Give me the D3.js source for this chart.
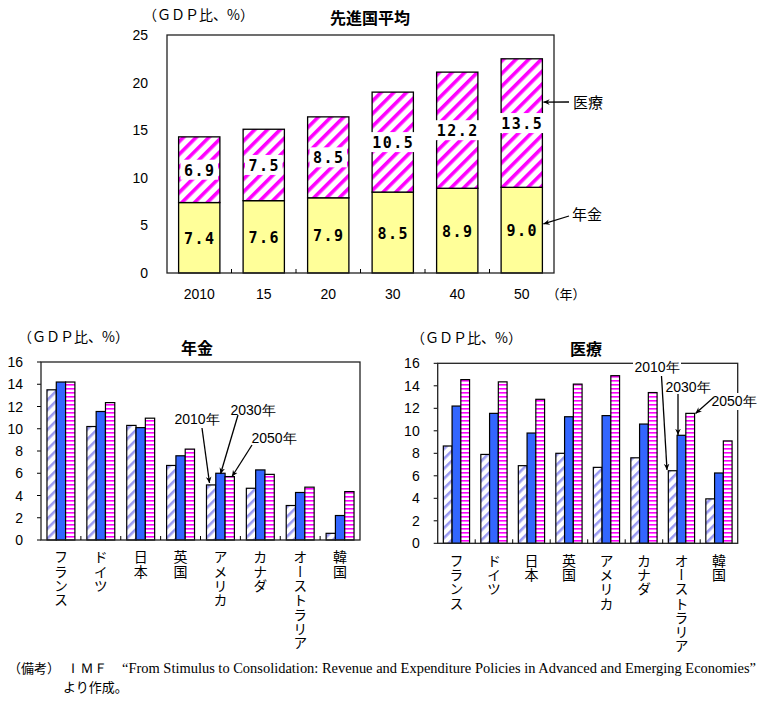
<!DOCTYPE html>
<html><head><meta charset="utf-8">
<script src="https://cdn.jsdelivr.net/npm/d3@7"></script>
<style>
body{margin:0;background:#fff;}
svg{display:block;}
</style></head>
<body><svg id="c" width="764" height="707"></svg>
<script>
// ---------- data ----------
const years = ["2010","15","20","30","40","50"];
const pensionAvg = [7.4,7.6,7.9,8.5,8.9,9.0];
const healthAvg = [6.9,7.5,8.5,10.5,12.2,13.5];
const topTicks = [0,5,10,15,20,25];

const countries = ["フランス","ドイツ","日本","英国","アメリカ","カナダ","オーストラリア","韓国"];
const pension2010 = [13.5,10.2,10.3,6.7,4.95,4.65,3.1,0.6];
const pension2030 = [14.2,11.55,10.1,7.57,6.0,6.3,4.27,2.2];
const pension2050 = [14.2,12.35,10.95,8.17,5.7,5.9,4.75,4.35];
const health2010 = [8.65,7.9,6.9,8.0,6.75,7.6,6.45,3.95];
const health2030 = [12.2,11.55,9.8,11.25,11.35,10.6,9.6,6.25];
const health2050 = [14.55,14.35,12.8,14.15,14.9,13.4,11.55,9.1];
const smallTicks = [0,2,4,6,8,10,12,14,16];
const seriesYears = ["2010年","2030年","2050年"];

const JP = "'Noto Sans CJK JP', sans-serif";
const NUM = "'Liberation Sans', Arial, sans-serif";
const NARROW = "'Liberation Sans Narrow', 'Liberation Sans', sans-serif";

const svg = d3.select("#c");
const defs = svg.append("defs");

// patterns
const pDiagM = defs.append("pattern").attr("id","diagM").attr("patternUnits","userSpaceOnUse")
  .attr("width",9).attr("height",9).attr("patternTransform","rotate(45)");
pDiagM.append("rect").attr("width",9).attr("height",9).attr("fill","#fff");
pDiagM.append("rect").attr("x",0).attr("width",3.6).attr("height",9).attr("fill","#ff00ff");

const pDiagB = defs.append("pattern").attr("id","diagB").attr("patternUnits","userSpaceOnUse")
  .attr("width",7).attr("height",7).attr("patternTransform","rotate(45)");
pDiagB.append("rect").attr("width",7).attr("height",7).attr("fill","#fff");
pDiagB.append("rect").attr("x",0).attr("width",2.6).attr("height",7).attr("fill","#9a9af2");

const pHorM = defs.append("pattern").attr("id","horM").attr("patternUnits","userSpaceOnUse")
  .attr("width",4).attr("height",4);
pHorM.append("rect").attr("width",4).attr("height",4).attr("fill","#fff");
pHorM.append("rect").attr("y",0).attr("width",4).attr("height",1.6).attr("fill","#ff00ff");

const mk = defs.append("marker").attr("id","arr").attr("viewBox","0 0 10 10")
  .attr("refX",9).attr("refY",5).attr("markerWidth",7).attr("markerHeight",7)
  .attr("orient","auto").attr("markerUnits","userSpaceOnUse");
mk.append("path").attr("d","M0,1 L9,5 L0,9 L3,5 Z").attr("fill","#000");

function arrow(g,x1,y1,x2,y2){
  g.append("line").attr("x1",x1).attr("y1",y1).attr("x2",x2).attr("y2",y2)
   .attr("stroke","#000").attr("stroke-width",1.3).attr("marker-end","url(#arr)");
}

// ---------- top chart ----------
{
  const L=167,R=554,T=35,B=273;
  const x = d3.scaleBand().domain(years).range([L,R]).paddingInner(0.36).paddingOuter(0.18);
  const y = d3.scaleLinear().domain([0,25]).range([B,T]);
  const g = svg.append("g");

  g.append("text").attr("x",143).attr("y",20).attr("font-family",JP).attr("font-size",14)
   .text("（ＧＤＰ比、%）");
  g.append("text").attr("x",370).attr("y",24).attr("text-anchor","middle").attr("font-family",JP)
   .attr("font-size",16).attr("font-weight","bold").text("先進国平均");

  g.selectAll(".yt").data(topTicks).join("text").attr("x",148).attr("y",d=>y(d)+5)
   .attr("text-anchor","end").attr("font-family",NUM).attr("font-size",14).text(d=>d);

  const data = years.map((yr,i)=>({yr,p:pensionAvg[i],h:healthAvg[i]}));
  g.selectAll(".bp").data(data).join("rect").attr("x",d=>x(d.yr)).attr("width",x.bandwidth())
   .attr("y",d=>y(d.p)).attr("height",d=>y(0)-y(d.p)).attr("fill","#ffff99").attr("stroke","#000").attr("stroke-width",1.3);
  g.selectAll(".bh").data(data).join("rect").attr("x",d=>x(d.yr)).attr("width",x.bandwidth())
   .attr("y",d=>y(d.p+d.h)).attr("height",d=>y(d.p)-y(d.p+d.h)).attr("fill","url(#diagM)").attr("stroke","#000").attr("stroke-width",1.3);

  const lab = (v)=>v.toFixed(1);
  g.selectAll(".lp").data(data).join("text").attr("x",d=>x(d.yr)+x.bandwidth()/2+0.5).attr("y",d=>y(d.p/2)+6)
   .attr("text-anchor","middle").attr("font-family","'DejaVu Sans Mono', monospace").attr("font-weight","bold")
   .attr("font-size",15).attr("letter-spacing",1.5).text(d=>lab(d.p));
  data.forEach(d=>{
    const cx = x(d.yr)+x.bandwidth()/2, cy = y(d.p+d.h/2);
    const t = lab(d.h);
    const w = t.length*10.5+6;
    g.append("rect").attr("x",cx-w/2).attr("y",cy-10).attr("width",w).attr("height",20).attr("fill","#fff");
    g.append("text").attr("x",cx+0.5).attr("y",cy+6).attr("text-anchor","middle")
     .attr("font-family","'DejaVu Sans Mono', monospace").attr("font-weight","bold")
     .attr("font-size",15).attr("letter-spacing",1.5).text(t);
  });

  g.append("rect").attr("x",L).attr("y",T).attr("width",R-L).attr("height",B-T).attr("fill","none").attr("stroke","#222").attr("stroke-width",1.3);
  years.slice(1).forEach(yr=>{
    const xx = x(yr)-x.step()*x.paddingInner()/2;
    g.append("line").attr("x1",xx).attr("x2",xx).attr("y1",B).attr("y2",B-4).attr("stroke","#000");
  });
  g.selectAll(".xl").data(years).join("text").attr("x",d=>x(d)+x.bandwidth()/2).attr("y",299)
   .attr("text-anchor","middle").attr("font-family",NUM).attr("font-size",14).text(d=>d);
  g.append("text").attr("x",566).attr("y",299).attr("text-anchor","middle").attr("font-family",JP).attr("font-size",13).text("（年）");

  const last = data[data.length-1];
  const bx = x(last.yr)+x.bandwidth();
  g.append("text").attr("x",573).attr("y",108).attr("font-family",JP).attr("font-size",15).text("医療");
  arrow(g,569,102,bx+1,y(17.95));
  g.append("text").attr("x",572).attr("y",220).attr("font-family",JP).attr("font-size",15).text("年金");
  arrow(g,569,216,bx+1,y(5.15));
}

// ---------- small charts ----------
function small(opt){
  const {L,R,T,B,title,titleX,v,ann} = opt;
  const x = d3.scaleBand().domain(countries).range([L,R]).paddingInner(0.3).paddingOuter(0.15);
  const xs = d3.scaleBand().domain(seriesYears).range([0,x.bandwidth()]);
  const y = d3.scaleLinear().domain([0,16]).range([B,T]);
  const g = svg.append("g");

  g.append("text").attr("x",opt.unitX).attr("y",T-20).attr("font-family",JP).attr("font-size",14).text("（ＧＤＰ比、%）");
  g.append("text").attr("x",titleX).attr("y",T-8).attr("text-anchor","middle").attr("font-family",JP)
   .attr("font-size",16).attr("font-weight","bold").text(title);

  g.selectAll(".yt").data(smallTicks).join("text").attr("x",L-18).attr("y",d=>y(d)+5)
   .attr("text-anchor","end").attr("font-family",NUM).attr("font-size",14).text(d=>d);
  smallTicks.forEach(d=>g.append("line").attr("x1",L-4).attr("x2",L).attr("y1",y(d)).attr("y2",y(d)).attr("stroke","#000"));

  const fills = ["url(#diagB)","#3366ff","url(#horM)"];
  seriesYears.forEach((s,si)=>{
    g.selectAll(".b"+si).data(countries.map((c,i)=>({c,val:v[si][i]}))).join("rect")
     .attr("x",d=>x(d.c)+xs(s)).attr("width",xs.bandwidth())
     .attr("y",d=>y(d.val)).attr("height",d=>y(0)-y(d.val))
     .attr("fill",fills[si]).attr("stroke","#000").attr("stroke-width",1.2);
  });

  g.append("rect").attr("x",L).attr("y",T).attr("width",R-L).attr("height",B-T).attr("fill","none").attr("stroke","#222").attr("stroke-width",1.3);
  countries.slice(1).forEach(c=>{
    const xx = x(c)-x.step()*x.paddingInner()/2;
    g.append("line").attr("x1",xx).attr("x2",xx).attr("y1",B).attr("y2",B-4).attr("stroke","#000");
  });

  g.selectAll(".xl").data(countries).join("text")
   .attr("x",d=>x(d)+x.bandwidth()/2).attr("y",B+opt.labOff)
   .attr("font-family",JP).attr("font-size",14)
   .style("writing-mode","vertical-rl").style("text-orientation","upright")
   .attr("letter-spacing",0.3).text(d=>d);

  ann.forEach(a=>{
    if(a.bg){
      g.append("rect").attr("x",a.tx-24).attr("y",a.ty-13).attr("width",48).attr("height",17).attr("fill","#fff");
    }
    g.append("text").attr("x",a.tx).attr("y",a.ty).attr("text-anchor","middle").attr("font-family",NARROW)
     .attr("font-size",14).text(a.label);
    arrow(g,a.x1,a.y1,a.x2,a.y2);
  });
}

small({L:41,R:360,T:362,B:540,title:"年金",titleX:197,unitX:18,labOff:10,
  v:[pension2010,pension2030,pension2050],
  ann:[
    {label:"2010年",tx:197,ty:424,x1:202,y1:428,x2:209.5,y2:483},
    {label:"2030年",tx:253,ty:415,x1:238,y1:415,x2:220.5,y2:474},
    {label:"2050年",tx:274,ty:443,x1:252,y1:445,x2:232,y2:476.5}
  ]});

small({L:437.7,R:737.7,T:363.3,B:543.3,title:"医療",titleX:586,unitX:411,labOff:10,
  v:[health2010,health2030,health2050],
  ann:[
    {label:"2010年",tx:657,ty:372,x1:661.5,y1:376,x2:667,y2:470,bg:true},
    {label:"2030年",tx:688,ty:392,x1:678,y1:394,x2:678,y2:435},
    {label:"2050年",tx:734,ty:406,x1:713,y1:398,x2:695.5,y2:413.5,bg:true}
  ]});

// ---------- footer ----------
const f = svg.append("g");
f.append("text").attr("x",8).attr("y",673).attr("font-family",JP).attr("font-size",13).text("（備考）");
f.append("text").attr("x",66).attr("y",673).attr("font-family","'Liberation Serif', serif").attr("font-size",14).text("ＩＭＦ");
f.append("text").attr("x",122).attr("y",673).attr("font-family","'Liberation Serif', serif").attr("font-size",14)
 .attr("textLength",634).attr("lengthAdjust","spacingAndGlyphs")
 .text("“From Stimulus to Consolidation: Revenue and Expenditure Policies in Advanced and Emerging Economies”");
f.append("text").attr("x",63).attr("y",692).attr("font-family",JP).attr("font-size",13).text("より作成。");
</script></body></html>
